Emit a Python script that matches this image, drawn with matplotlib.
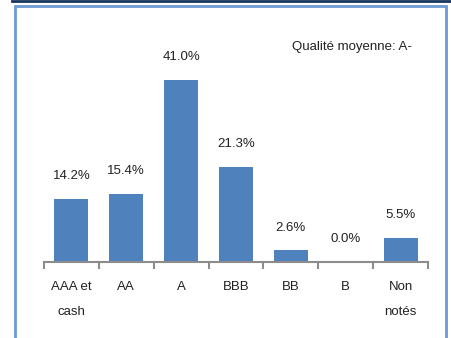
import matplotlib
matplotlib.use('Agg')
import matplotlib.pyplot as plt
from matplotlib.patches import Rectangle
from matplotlib.lines import Line2D
import numpy as np

matplotlib.rcParams['font.family'] = ['Liberation Sans Narrow', 'Liberation Sans', 'DejaVu Sans']
matplotlib.rcParams['font.size'] = 9.5

categories = ['AAA et\ncash', 'AA', 'A', 'BBB', 'BB', 'B', 'Non\nnotés']
weights = [14.2, 15.4, 41.0, 21.3, 2.6, 0.0, 5.5]
note = 'Qualité moyenne: A-'

bar_color = '#4F81BD'

fig = plt.figure(figsize=(4.52, 3.38), dpi=100)
ax = fig.add_axes([44 / 452, 76 / 338, 384 / 452, 232 / 338])

x = np.arange(len(categories))
bars = ax.bar(x, weights, width=0.62, color=bar_color)

for xi, v in zip(x, weights):
    ax.annotate('{0:.1f}%'.format(v), (xi, v), xytext=(0, 16.5),
                textcoords='offset points', ha='center', va='center',
                color='#222222')

ax.set_xlim(-0.5, len(categories) - 0.5)
ax.set_ylim(0, 52.2)

for s in ['top', 'right', 'left']:
    ax.spines[s].set_visible(False)
ax.spines['bottom'].set_color('#8c8c8c')
ax.spines['bottom'].set_linewidth(1.5)
ax.set_yticks([])

ax.set_xticks(x)
ax.set_xticklabels(categories, linespacing=2.4, va='top', color='#222222')
ax.tick_params(axis='x', which='major', length=0, pad=14)
ax.set_xticks(np.arange(-0.5, len(categories)), minor=True)
ax.tick_params(axis='x', which='minor', length=5, width=1.5, color='#8c8c8c', direction='out')

fig.text(352 / 452, 1 - 47 / 338, note, ha='center', va='center', color='#222222')

# outer frame and the dark rule above it
fig.add_artist(Rectangle((15 / 452, -0.05), 431 / 452, 1.05 - 6 / 338,
                         transform=fig.transFigure, fill=False,
                         edgecolor='#6b9bd2', linewidth=2.0))
fig.add_artist(Line2D([12 / 452, 1.0], [1 - 1 / 338, 1 - 1 / 338],
                      transform=fig.transFigure, color='#17365d', linewidth=2.0))

fig.savefig('out.png', dpi=100)
